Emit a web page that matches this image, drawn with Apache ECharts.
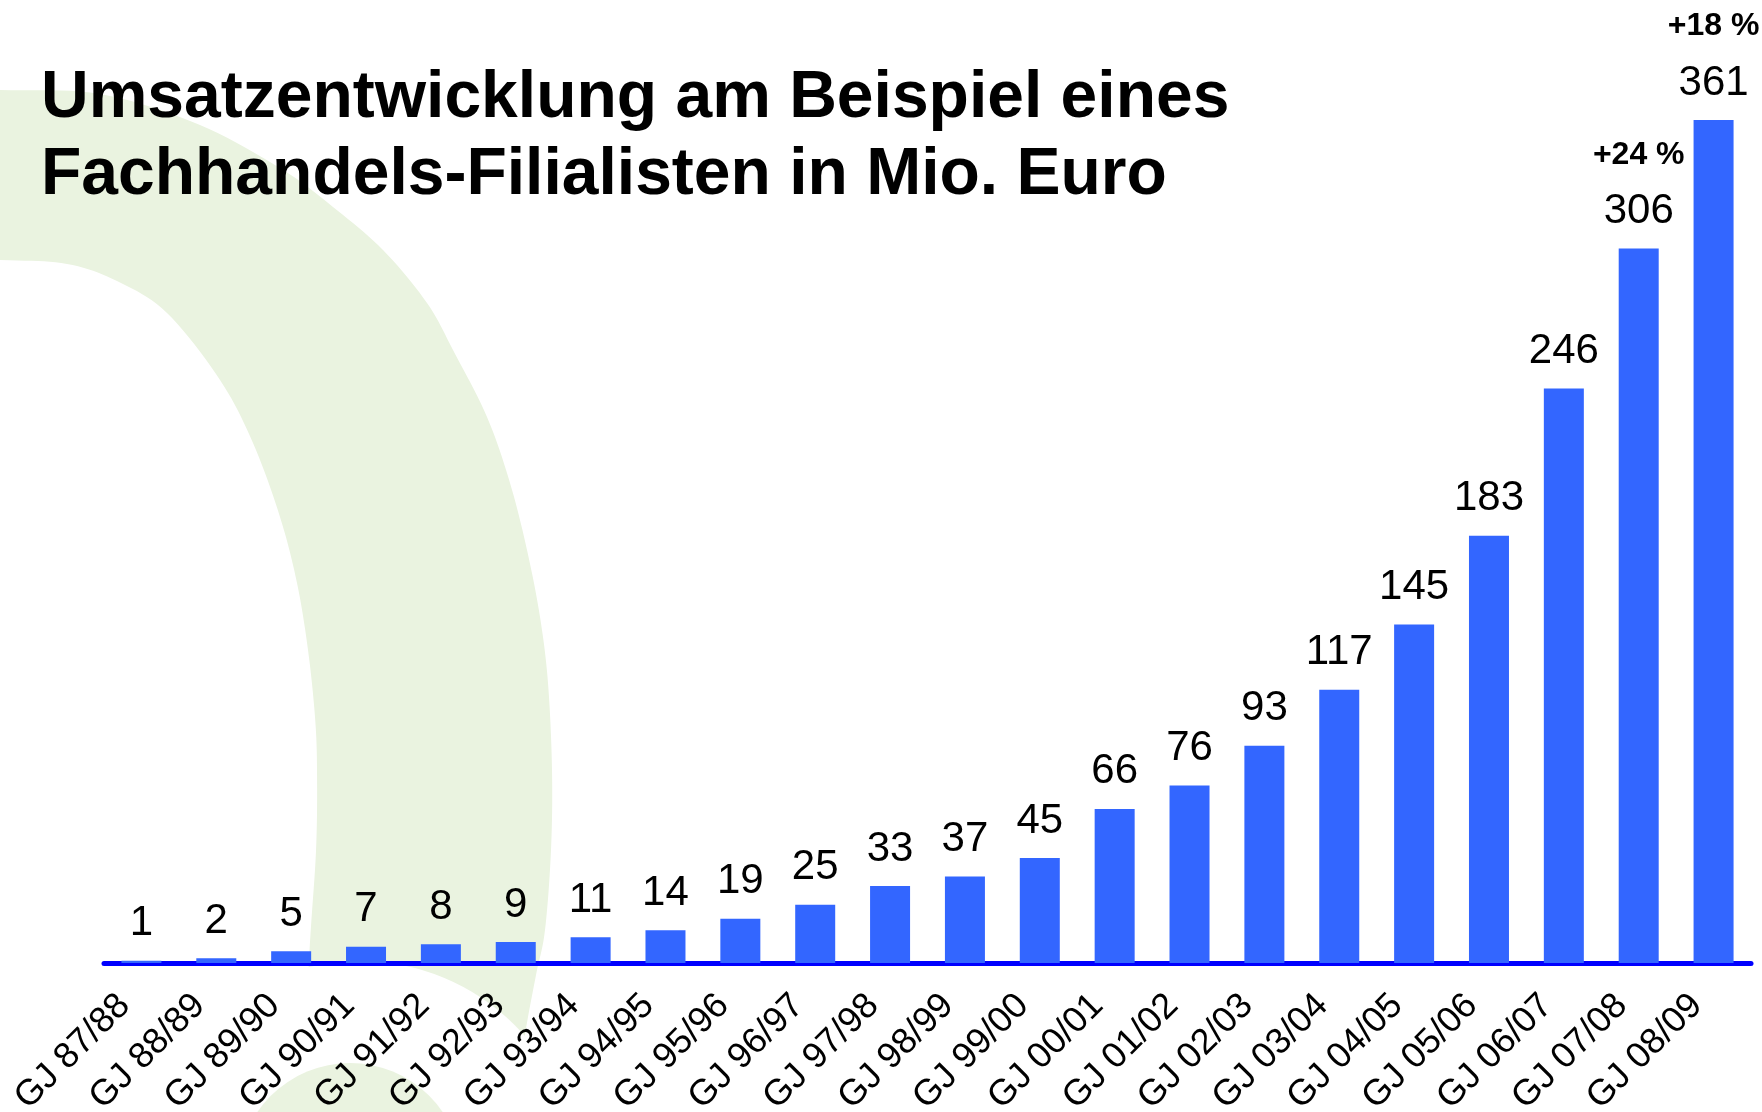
<!DOCTYPE html>
<html>
<head>
<meta charset="utf-8">
<title>Umsatzentwicklung</title>
<script src="https://cdn.jsdelivr.net/npm/echarts@6/dist/echarts.min.js"></script>
<style>
  html, body { margin: 0; padding: 0; background: #fff; }
  #chart { width: 1762px; height: 1112px; }
</style>
</head>
<body>
<div id="chart"></div>
<script>
// Geschaeftsjahre
var categories = ['GJ 87/88', 'GJ 88/89', 'GJ 89/90', 'GJ 90/91', 'GJ 91/92', 'GJ 92/93',
  'GJ 93/94', 'GJ 94/95', 'GJ 95/96', 'GJ 96/97', 'GJ 97/98', 'GJ 98/99', 'GJ 99/00',
  'GJ 00/01', 'GJ 01/02', 'GJ 02/03', 'GJ 03/04', 'GJ 04/05', 'GJ 05/06', 'GJ 06/07',
  'GJ 07/08', 'GJ 08/09'];
// Umsatz in Mio. Euro
var umsatz = [1, 2, 5, 7, 8, 9, 11, 14, 19, 25, 33, 37, 45, 66, 76, 93, 117, 145, 183, 246, 306, 361];
// Wachstum zum Vorjahr (nur die letzten beiden Jahre beschriftet)
var wachstum = ['', '', '', '', '', '', '', '', '', '', '', '', '', '', '', '', '', '', '', '', '+24 %', '+18 %'];

var font = 'Liberation Sans, Arial, sans-serif';
var gruen = '#eaf3e0';

// heller gruener Bogen im Hintergrund (nur Deko): Aussen- und Innenkante
var aussen = [[-120, 86], [0, 90], [100, 94], [200, 125], [283, 170], [333, 207], [383, 250],
  [427, 303], [453, 350], [487, 417], [510, 483], [527, 550], [540, 617], [548, 683],
  [552, 770], [551, 850], [545, 930], [536, 975], [524, 1040], [505, 1160]];
var innen = [[300, 1160], [309, 960], [316, 851], [317, 770], [315, 717], [308, 650],
  [297, 583], [280, 517], [253, 443], [220, 380], [167, 313], [117, 281], [67, 264],
  [0, 260], [-120, 258]];

// Catmull-Rom, damit die Kante rund wird
function glatt(pts) {
  var out = [];
  for (var i = 0; i < pts.length - 1; i++) {
    var p0 = pts[Math.max(i - 1, 0)], p1 = pts[i], p2 = pts[i + 1], p3 = pts[Math.min(i + 2, pts.length - 1)];
    for (var t = 0; t < 1; t += 0.1) {
      var t2 = t * t, t3 = t2 * t;
      out.push([0, 1].map(function (k) {
        return 0.5 * (2 * p1[k] + (-p0[k] + p2[k]) * t + (2 * p0[k] - 5 * p1[k] + 4 * p2[k] - p3[k]) * t2 +
          (-p0[k] + 3 * p1[k] - 3 * p2[k] + p3[k]) * t3);
      }));
    }
  }
  out.push(pts[pts.length - 1]);
  return out;
}

var chart = echarts.init(document.getElementById('chart'));
chart.setOption({
  backgroundColor: '#ffffff',
  animation: false,
  title: {
    text: 'Umsatzentwicklung am Beispiel eines\nFachhandels-Filialisten in Mio. Euro',
    left: 36,
    top: 55,
    textStyle: { fontFamily: font, fontWeight: 'bold', fontSize: 66, lineHeight: 77, color: '#000' }
  },
  graphic: [
    {
      type: 'polygon', z: -10, silent: true,
      shape: { points: glatt(aussen).concat(glatt(innen)) },
      style: { fill: gruen }
    },
    {
      type: 'circle', z: -9, silent: true,
      shape: { cx: 360, cy: 1180, r: 219 },
      style: { fill: '#ffffff' }
    },
    {
      type: 'circle', z: -8, silent: true,
      shape: { cx: 350, cy: 1175, r: 112 },
      style: { fill: gruen }
    }
  ],
  grid: { left: 104, right: 11, top: 29, bottom: 149, outerBoundsMode: 'none' },
  xAxis: {
    type: 'category',
    data: categories,
    axisLine: { lineStyle: { color: '#0000ff', width: 5, cap: 'round' } },
    axisTick: { show: false },
    axisLabel: {
      rotate: 45, margin: 20, interval: 0,
      padding: [0, 24, 0, 0],
      fontFamily: font, fontSize: 36, color: '#000'
    }
  },
  yAxis: {
    type: 'value', min: 0, max: 400,
    show: false,
    splitLine: { show: false }
  },
  series: [{
    type: 'bar',
    data: umsatz,
    barWidth: 40,
    itemStyle: { color: '#3366ff' },
    label: {
      show: true,
      position: 'top',
      distance: 16,
      formatter: function (p) {
        var g = wachstum[p.dataIndex];
        return (g ? '{p|' + g + '}\n' : '') + '{v|' + p.value + '}';
      },
      rich: {
        v: { fontFamily: font, fontSize: 42, lineHeight: 42, color: '#000' },
        p: { fontFamily: font, fontSize: 32, fontWeight: 'bold', lineHeight: 71, color: '#000' }
      }
    }
  }]
});
</script>
</body>
</html>
